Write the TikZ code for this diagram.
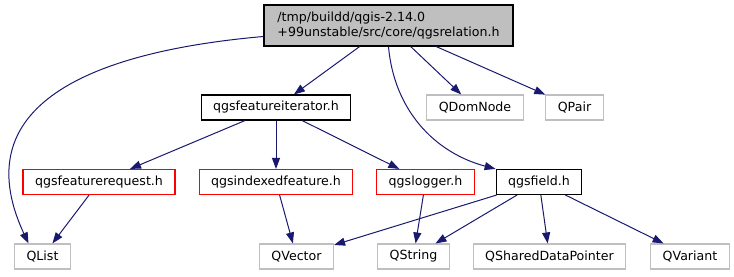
\documentclass[tikz,border=0pt]{standalone}
\usepackage{fontspec}
\setmainfont{DejaVu Sans}
\usetikzlibrary{arrows.meta}

\definecolor{edgeblue}{HTML}{191970}
\definecolor{boxgray}{HTML}{BFBFBF}

\begin{document}
\begin{tikzpicture}[x=1pt, y=1pt, font=\fontsize{12.6}{15}\selectfont,
    hdr/.style={draw=black, line width=1.1pt, inner xsep=12pt, inner ysep=0pt, minimum height=25pt},
    redhdr/.style={hdr, draw=red},
    sys/.style={hdr, draw=boxgray},
    dep/.style={draw=edgeblue, line width=1pt, -{Triangle[length=11pt,width=8pt]}}]
    \useasboundingbox (0,0) rectangle (734,-276);
    % top file
    \node[hdr, fill=boxgray, align=left, minimum width=249pt, minimum height=41pt] (rel) at (388.5,-25.5)
        {/tmp/buildd/qgis-2.14.0\\+99unstable/src/core/qgsrelation.h};
    % second row
    \node[hdr] (iter) at (276,-107.5) {qgsfeatureiterator.h};
    \node[sys] (dom) at (475,-107.5) {QDomNode};
    \node[sys] (pair) at (574.5,-107.5) {QPair};
    % third row
    \node[redhdr] (req) at (99,-182) {qgsfeaturerequest.h};
    \node[redhdr] (idx) at (276,-182) {qgsindexedfeature.h};
    \node[redhdr] (log) at (425.5,-182) {qgslogger.h};
    \node[hdr] (fld) at (539,-182) {qgsfield.h};
    % Qt headers
    \node[sys] (list) at (42.5,-256.5) {QList};
    \node[sys] (vec) at (296.5,-256.5) {QVector};
    \node[sys] (str) at (413.5,-256.5) {QString};
    \node[sys] (shp) at (549.5,-256.5) {QSharedDataPointer};
    \node[sys] (var) at (690,-256.5) {QVariant};
    % includes
    \draw[dep] (rel) -- (iter);
    \draw[dep] (rel) -- (dom);
    \draw[dep] (rel) -- (pair);
    \draw[dep] ([yshift=-11pt]rel.west) to[out=185, in=115, looseness=1.3] ([xshift=-14pt]list.north);
    \draw[dep] (rel.south) to[out=-85, in=165] (fld.north west);
    \draw[dep] (iter) -- (req);
    \draw[dep] (iter) -- (idx);
    \draw[dep] (iter) -- (log);
    \draw[dep] (req) -- (list);
    \draw[dep] (idx) -- (vec);
    \draw[dep] (log) -- (str);
    \draw[dep] (fld) -- (vec);
    \draw[dep] (fld) -- (str);
    \draw[dep] (fld) -- (shp);
    \draw[dep] (fld) -- (var);
\end{tikzpicture}
\end{document}
